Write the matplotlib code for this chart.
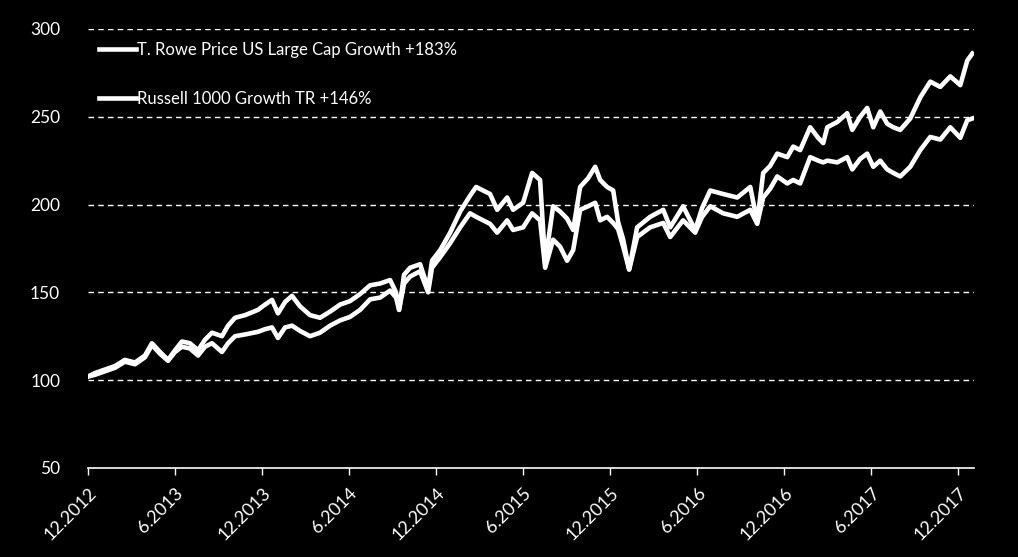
import numpy as np
import matplotlib as mpl
mpl.use('Agg')
import matplotlib.pyplot as plt

# months since 12.2012
months = [0.00, 0.48, 1.17, 1.86, 2.55, 3.24, 3.93, 4.41, 4.97, 5.52,
          6.00, 6.48, 7.03, 7.59, 8.07, 8.55, 9.24, 9.66, 10.14, 10.83,
          11.72, 12.21, 12.69, 13.10, 13.59, 14.07, 14.62, 15.31, 16.00, 16.69,
          17.38, 18.07, 18.76, 19.45, 20.14, 20.83, 21.24, 21.45, 21.79, 22.21,
          22.90, 23.45, 23.72, 24.28, 24.97, 25.66, 26.34, 26.76, 27.24, 27.72,
          28.21, 28.90, 29.31, 30.00, 30.62, 31.17, 31.52, 32.07, 32.55, 33.03,
          33.45, 33.93, 34.48, 34.97, 35.31, 35.79, 36.21, 36.55, 36.90, 37.31,
          37.86, 38.76, 39.66, 40.14, 41.03, 41.86, 42.34, 42.90, 43.79, 44.76,
          45.66, 46.14, 46.55, 47.03, 47.52, 48.21, 48.62, 49.10, 49.79, 50.34,
          50.69, 50.97, 51.66, 52.34, 52.69, 53.24, 53.72, 54.14, 54.62, 55.10,
          55.52, 56.00, 56.69, 57.38, 58.07, 58.76, 59.45, 60.14, 60.62, 60.97]

trowe = [102, 104, 106, 108, 111.5, 110, 114, 121, 116, 111.5,
         117, 122, 121, 117, 123, 127, 125, 131, 135.5, 137,
         140, 143, 145.7, 138, 144.5, 148, 142, 137, 135.5, 139,
         143, 145, 149, 154, 155, 157, 150, 140, 160, 164,
         166, 152, 168, 174, 184, 196, 205, 210, 208, 206,
         197, 204, 197, 201, 218, 214, 167, 199, 196, 192,
         185.5, 210, 215, 221.5, 214, 210, 208, 190, 180, 163,
         187, 193, 197, 187, 199, 185.5, 198, 208, 206, 204,
         210, 190, 218, 222, 229, 227, 233, 231, 244, 238,
         235, 244, 247, 252, 242.5, 250, 255, 244, 253, 246,
         244, 242.5, 249, 261, 270, 267, 273, 268, 282, 286]

russell = [102, 103, 105, 107, 110.5, 109, 113, 120, 115, 111,
           116, 119, 118, 114, 119, 121, 116, 121, 125, 126,
           127.5, 129, 130, 124, 130, 131, 128, 125, 127, 131,
           134, 136, 140, 146, 147, 151, 147, 140, 155, 159,
           162, 150, 164, 170, 178, 187, 195, 193, 191, 189,
           184, 191, 185.5, 187, 195, 191, 164, 180, 176, 168,
           174, 197, 199, 201, 191, 193, 189.5, 186, 176, 163,
           181.5, 187, 189.5, 181.5, 191, 184, 193, 199, 195, 193,
           197, 189, 204, 209, 216, 212, 214, 212, 227, 225,
           224, 225, 224, 227, 220, 226, 229, 221.5, 225, 220,
           218, 216, 221.5, 231, 238.5, 237, 244, 238, 248, 249]

tick_months = [0, 6, 12, 18, 24, 30, 36, 42, 48, 54, 60]
tick_labels = ['12.2012', '6.2013', '12.2013', '6.2014', '12.2014', '6.2015',
               '12.2015', '6.2016', '12.2016', '6.2017', '12.2017']
labels = ['T. Rowe Price US Large Cap Growth +183%', 'Russell 1000 Growth TR +146%']

plt.rcParams['font.family'] = ['Lato', 'DejaVu Sans']
plt.rcParams['font.size'] = 12

fig = plt.figure(figsize=(10.18, 5.57), dpi=100, facecolor='black')
ax = fig.add_axes([0.0864, 0.160, 0.8706, 0.788])
ax.set_facecolor('black')

ax.plot(months, trowe, color='white', linewidth=3.3, label=labels[0], zorder=3)
ax.plot(months, russell, color='white', linewidth=3.3, label=labels[1], zorder=3)

ax.set_ylim(50, 300)
ax.set_xlim(0, 61.1)
ax.set_yticks([50, 100, 150, 200, 250, 300])
ax.set_xticks(tick_months)
ax.set_xticklabels(tick_labels, rotation=45, ha='right', rotation_mode='anchor')

# dashed grid, skip the baseline
for y in [100, 150, 200, 250, 300]:
    ax.axhline(y, color='white', linewidth=1, linestyle=(0, (4, 3)), zorder=1)

for s in ['top', 'right', 'left']:
    ax.spines[s].set_visible(False)
ax.spines['bottom'].set_color('white')
ax.spines['bottom'].set_linewidth(1.2)

ax.tick_params(axis='y', length=0, pad=20, colors='white', labelsize=12.5)
ax.tick_params(axis='x', direction='out', length=5, width=1, colors='white',
               labelsize=13, pad=7)

leg = ax.legend(loc='upper left', bbox_to_anchor=(0.0125, 0.971), frameon=False,
                handlelength=2.2, handletextpad=0.1, labelspacing=2.0,
                fontsize=12, borderaxespad=0, borderpad=0)
for t in leg.get_texts():
    t.set_color('white')

fig.savefig('out.png', facecolor='black')
